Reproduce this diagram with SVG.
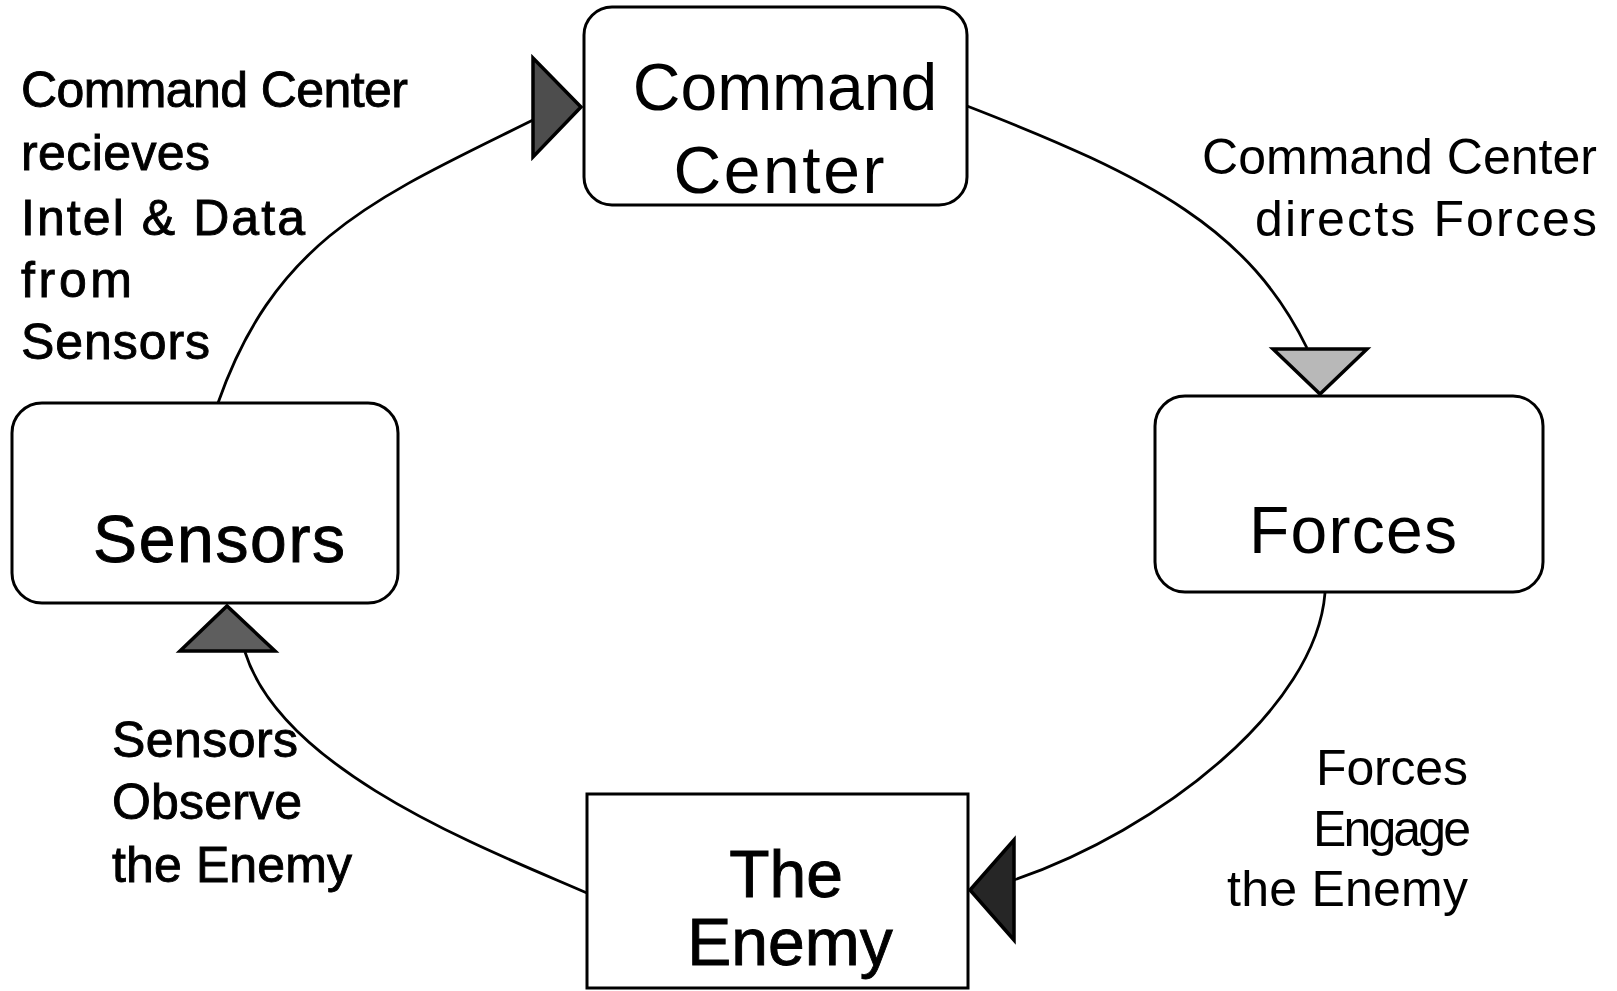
<svg xmlns="http://www.w3.org/2000/svg" width="1617" height="991" viewBox="0 0 1617 991">
<style>
.box{fill:#fff;stroke:#000;stroke-width:3}
.conn{fill:none;stroke:#000;stroke-width:2.8}
.arr{stroke:#000;stroke-width:3.5;stroke-linejoin:miter}
text{font-family:"Liberation Sans",Arial,Helvetica,sans-serif;fill:#000}
.node{font-size:66px;text-anchor:middle}
.lbl{font-size:50px}
.heavy{stroke:#000;stroke-width:0.9}
</style>
<rect width="1617" height="991" fill="#fff"/>
<g id="connectors">
<path class="conn" d="M218,403 C276,237 380,196 533,120"/>
<path class="conn" d="M967,106 C1153,178 1249,230 1307,348"/>
<path class="conn" d="M1325,593 C1316,708 1160,830 1014,880"/>
<path class="conn" d="M245,652 C283,773 491,851 587,893"/>
<polygon class="arr" fill="#4d4d4d" points="533,58 533,157 581,107"/>
<polygon class="arr" fill="#b8b8b8" points="1273,349 1367,349 1320,394"/>
<polygon class="arr" fill="#5e5e5e" points="180,651 275,651 227,606"/>
<polygon class="arr" fill="#262626" points="1014,840 1014,940 970,890"/>
</g>
<g id="node-command-center">
<rect class="box" x="584" y="7" width="383" height="198" rx="28"/>
<text class="node" x="785" y="110">Command</text>
<text class="node" x="779" y="193" textLength="211">Center</text>
</g>
<g id="node-forces">
<rect class="box" x="1155" y="396" width="388" height="196" rx="30"/>
<text class="node" x="1353" y="553" font-size="67" textLength="208">Forces</text>
</g>
<g id="node-sensors">
<rect class="box" x="12" y="403" width="386" height="200" rx="30"/>
<text class="node heavy" x="219" y="562" font-size="69" textLength="252">Sensors</text>
</g>
<g id="node-enemy">
<rect class="box" x="587" y="794" width="381" height="194"/>
<text class="node heavy" x="786" y="897">The</text>
<text class="node heavy" x="790" y="965" font-size="64">Enemy</text>
</g>
<g id="labels">
<text class="lbl heavy" x="21" y="107" textLength="387">Command Center</text>
<text class="lbl heavy" x="21" y="170" textLength="189">recieves</text>
<text class="lbl heavy" x="21" y="235" textLength="284">Intel &amp; Data</text>
<text class="lbl heavy" x="21" y="297" textLength="111">from</text>
<text class="lbl heavy" x="21" y="359" textLength="189">Sensors</text>
<text class="lbl" x="1202" y="174" font-size="52" textLength="395">Command Center</text>
<text class="lbl" x="1255" y="236" font-size="52" textLength="342">directs  Forces</text>
<text class="lbl" x="1316" y="785" textLength="152">Forces</text>
<text class="lbl" x="1313" y="846" textLength="158">Engage</text>
<text class="lbl" x="1227" y="906" textLength="241">the Enemy</text>
<text class="lbl heavy" x="112" y="757" textLength="186">Sensors</text>
<text class="lbl heavy" x="112" y="819" textLength="190">Observe</text>
<text class="lbl heavy" x="112" y="882" textLength="240">the Enemy</text>
</g>
</svg>
